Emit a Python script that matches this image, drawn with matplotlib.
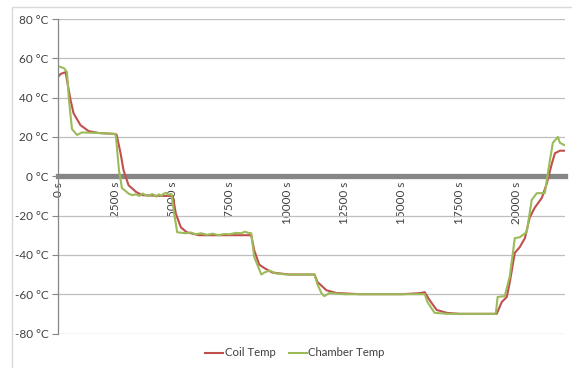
import matplotlib
matplotlib.use("Agg")
import matplotlib.pyplot as plt
from matplotlib.patches import Rectangle

# ---- data ----
coil_t = [0, 110, 330, 550, 680, 980, 1330, 1770, 2510, 2560, 2730, 2860, 3080, 3410, 3670,
          4410, 5010, 5140, 5360, 5620, 6150, 7000, 8000, 8430, 8560, 8780, 9000, 9350, 10090,
          11190, 11320, 11710, 12150, 13160, 15000, 15780, 16000, 16210, 16520, 16960, 17530,
          19140, 19360, 19580, 19710, 19930, 20150, 20370, 20580, 20800, 21110, 21330, 21550,
          21680, 21900, 22120]
coil_v = [50.5, 52, 53, 38.6, 32, 26, 23, 22, 21.5, 21, 11.7, 3, -4.6, -8, -9.6,
          -10, -10, -19, -26, -28.5, -30, -30, -30, -30, -37.6, -45, -46.7, -49, -50,
          -50, -53.8, -58, -59.4, -60, -60, -59.5, -59, -63, -68, -69.5, -70,
          -70, -64, -61.4, -54, -39, -36, -31.5, -21, -16, -11, -3.5, 6.6,
          11.7, 13, 13]

chamber_t = [0, 260, 390, 480, 610, 830, 1050, 1790, 2490, 2530, 2660, 2790, 3100, 3250, 3400,
             3550, 3700, 3850, 4000, 4100, 4200, 4300, 4400, 4500, 4600, 4700, 4800, 4950,
             5070, 5200, 5590, 5800, 6000, 6250, 6500, 6750, 7000, 7250, 7500, 7750, 8000,
             8150, 8300, 8430, 8560, 8870, 9000, 9220, 9530, 10000, 11190, 11320,
             11490, 11620, 11840, 12500, 16000, 16120, 16430, 17000, 19100, 19180, 19490,
             19710, 19930, 20150, 20450, 20670, 20890, 21240, 21460, 21590, 21810, 21900,
             22120]
chamber_v = [56, 55, 53, 38.6, 24, 21, 22.3, 22, 21.5, 20, 3, -6, -9, -9.6, -9.2,
             -10, -8.8, -9.8, -10, -9, -9.6, -10.4, -9.2, -10, -9, -8.4, -9.4, -9,
             -19, -28.5, -29, -28.6, -29.5, -29, -29.8, -29.2, -30, -29.4, -29.5, -28.8, -29,
             -28.2, -28.8, -29, -41, -50, -49, -48, -49.5, -50, -50, -55,
             -59.4, -61, -59.4, -60, -60, -64, -69.5, -70, -70, -61.4, -61,
             -51, -31.5, -31, -28.4, -12, -8.6, -8.6, 8, 17, 20, 17,
             15.7]

x_ticks = [0, 2500, 5000, 7500, 10000, 12500, 15000, 17500, 20000]
x_labels = ["0 s", "2500 s", "5000 s", "7500 s", "10000 s", "12500 s", "15000 s",
            "17500 s", "20000 s"]
y_ticks = [-80, -60, -40, -20, 0, 20, 40, 60, 80]
y_labels = ["-80 °C", "-60 °C", "-40 °C", "-20 °C", "0 °C", "20 °C", "40 °C", "60 °C", "80 °C"]

plt.rcParams['font.family'] = ['Lato', 'DejaVu Sans']

fig = plt.figure(figsize=(5.72, 3.68), dpi=100)
W, H = 572, 368
# outer chart frame
fig.patches.append(Rectangle((12 / W, -0.05), 1.1, (H - 7) / H + 0.05, transform=fig.transFigure,
                             fill=False, edgecolor="#d9d9d9", lw=1.0))

ax = fig.add_axes([58 / W, 1 - 333.5 / H, (565 - 58) / W, (333.5 - 19) / H])

ax.plot(coil_t, coil_v, color="#C0504D", lw=1.5, label="Coil Temp")
ax.plot(chamber_t, chamber_v, color="#9BBB59", lw=1.5, label="Chamber Temp")

ax.set_xlim(0, 22120)
ax.set_ylim(-80, 80)

ax.set_yticks(y_ticks)
ax.set_yticklabels(y_labels)
ax.set_xticks(x_ticks)
ax.set_xticklabels(x_labels)

ax.grid(axis="y", color="#bfbfbf", lw=0.9)
ax.set_axisbelow(True)

for s in ["top", "right"]:
    ax.spines[s].set_visible(False)
ax.spines["left"].set_color("#868686")
ax.spines["left"].set_linewidth(0.9)
ax.spines["bottom"].set_position(("data", 0))
ax.spines["bottom"].set_color("#868686")
ax.spines["bottom"].set_linewidth(3.8)
ax.spines["bottom"].set_zorder(1)

ax.tick_params(axis="y", length=4, color="#868686", labelsize=8.5, pad=3, labelcolor="#404040")
ax.tick_params(axis="x", length=0, labelsize=8.5, pad=4, labelcolor="#404040", labelrotation=90)

leg = fig.legend(loc="center", bbox_to_anchor=(295 / W, 1 - 353 / H), ncol=2, frameon=False,
                 fontsize=8.2, handlelength=1.6, handletextpad=0.1, columnspacing=1.2)
for t in leg.get_texts():
    t.set_color("#404040")

fig.savefig("out.png", dpi=100)
